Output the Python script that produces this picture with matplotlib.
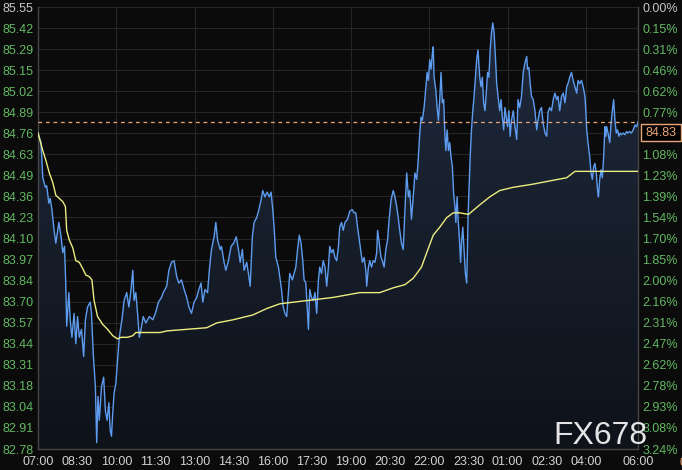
import numpy as np
import matplotlib
matplotlib.use("Agg")
import matplotlib.pyplot as plt
from matplotlib.colors import LinearSegmentedColormap
from matplotlib.patches import Rectangle

plt.rcParams['font.family'] = ['Liberation Sans', 'DejaVu Sans']

# minutes after 07:00 and traded price
price_min = [0, 7, 11, 17, 20, 25, 28, 32, 37, 41, 48, 53, 57, 61, 64, 66, 71, 74, 78, 83,
             87, 91, 95, 100, 105, 109, 114, 120, 123, 127, 132, 135, 138, 141, 146, 151, 155, 159, 163, 166,
             169, 172, 175, 179, 183, 187, 193, 198, 204, 209, 214, 218, 221, 225, 229, 233, 237, 242, 248, 256,
             264, 270, 277, 284, 288, 296, 301, 307, 313, 319, 324, 330, 336, 342, 347, 353, 359, 365, 370, 375,
             379, 384, 390, 394, 399, 405, 409, 413, 419, 422, 428, 432, 438, 444, 450, 456, 461, 465, 470, 474,
             480, 484, 488, 493, 497, 503, 508, 513, 517, 522, 527, 532, 536, 540, 543, 547, 553, 556, 560, 564,
             568, 572, 576, 579, 585, 589, 593, 597, 601, 605, 609, 612, 616, 619, 622, 625, 629, 633, 637, 641,
             645, 648, 652, 656, 660, 664, 668, 671, 675, 679, 683, 687, 691, 694, 698, 702, 706, 712, 717, 723,
             727, 731, 735, 739, 743, 746, 750, 754, 756, 760, 763, 767, 771, 775, 779, 781, 784, 789, 792, 796,
             800, 804, 807, 812, 817, 821, 825, 829, 832, 836, 840, 844, 848, 852, 855, 859, 863, 867, 871, 874,
             878, 881, 884, 888, 892, 895, 898, 901, 904, 907, 909, 911, 915, 918, 921, 924, 927, 930, 933, 936,
             938, 941, 944, 947, 950, 953, 956, 959, 961, 964, 966, 969, 972, 974, 977, 980, 983, 986, 988, 989,
             992, 994, 997, 1000, 1003, 1006, 1009, 1012, 1016, 1019, 1022, 1025, 1028, 1031, 1034, 1037, 1040, 1043, 1046, 1049,
             1052, 1055, 1058, 1062, 1065, 1068, 1071, 1074, 1077, 1080, 1083, 1086, 1089, 1093, 1097, 1101, 1104, 1108, 1112, 1116,
             1120, 1124, 1126, 1129, 1132, 1135, 1139, 1143, 1147, 1150, 1154, 1158, 1162, 1166, 1170, 1173, 1177, 1181, 1185, 1189,
             1193, 1196, 1200, 1204, 1208, 1212, 1216, 1219, 1223, 1227, 1231, 1235, 1239, 1242, 1246, 1250, 1254, 1258, 1260, 1262,
             1265, 1269, 1272, 1275, 1278, 1281, 1284, 1287, 1289, 1292, 1295, 1298, 1301, 1304, 1306, 1308, 1311, 1315, 1318, 1321,
             1324, 1327, 1330, 1333, 1336, 1339, 1342, 1346, 1350, 1354, 1357, 1361, 1365, 1369, 1373, 1377, 1380]
price_val = [84.76, 84.70, 84.48, 84.42, 84.43, 84.32, 84.35, 84.28, 84.15, 84.07, 84.20, 84.11, 84.01, 84.05, 83.80, 83.55, 83.76, 83.59, 83.48, 83.63,
             83.44, 83.61, 83.48, 83.53, 83.36, 83.59, 83.67, 83.70, 83.63, 83.38, 83.17, 82.82, 83.11, 82.96, 83.17, 83.23, 83.02, 82.96, 83.07, 82.90,
             82.86, 83.01, 83.13, 83.19, 83.34, 83.48, 83.59, 83.71, 83.76, 83.67, 83.78, 83.90, 83.71, 83.76, 83.63, 83.48, 83.53, 83.61, 83.57, 83.61,
             83.59, 83.63, 83.70, 83.73, 83.76, 83.80, 83.90, 83.95, 83.96, 83.86, 83.82, 83.84, 83.78, 83.73, 83.67, 83.63, 83.70, 83.73, 83.78, 83.82,
             83.70, 83.78, 83.76, 83.90, 84.03, 84.11, 84.20, 84.09, 84.03, 84.05, 83.95, 83.90, 83.96, 84.05, 84.07, 84.11, 84.03, 83.95, 84.03, 83.90,
             83.95, 83.88, 83.80, 84.11, 84.20, 84.23, 84.28, 84.34, 84.40, 84.36, 84.39, 84.36, 84.39, 84.28, 84.17, 83.98, 83.92, 83.86, 83.78, 83.67,
             83.63, 83.61, 83.76, 83.88, 83.84, 83.88, 83.92, 84.03, 84.12, 84.07, 83.96, 83.84, 83.82, 83.67, 83.53, 83.78, 83.73, 83.71, 83.76, 83.63,
             83.84, 83.92, 83.88, 83.96, 83.92, 83.80, 83.92, 84.05, 84.01, 84.03, 83.98, 83.96, 84.05, 84.17, 84.20, 84.15, 84.20, 84.22, 84.27, 84.28,
             84.26, 84.26, 84.17, 84.09, 84.01, 83.95, 83.98, 83.90, 83.80, 83.92, 83.96, 83.92, 83.96, 83.95, 84.01, 84.15, 84.09, 83.98, 83.96, 83.92,
             84.03, 84.09, 84.20, 84.34, 84.40, 84.36, 84.30, 84.22, 84.15, 84.07, 84.03, 84.28, 84.51, 84.36, 84.40, 84.22, 84.36, 84.51, 84.47, 84.57,
             84.76, 84.86, 84.84, 84.92, 85.05, 85.14, 85.09, 85.22, 85.16, 85.26, 85.30, 85.11, 85.03, 84.92, 84.84, 84.97, 85.14, 84.95, 84.97, 84.74,
             84.65, 84.78, 84.65, 84.70, 84.61, 84.55, 84.38, 84.30, 84.20, 84.36, 84.23, 84.11, 83.95, 84.07, 84.17, 84.03, 83.88, 83.82, 84.07, 84.23,
             84.45, 84.61, 84.78, 84.90, 84.99, 85.11, 85.22, 85.28, 85.11, 85.05, 85.11, 84.95, 84.90, 85.01, 85.14, 85.11, 85.28, 85.39, 85.45, 85.39,
             85.24, 85.07, 84.99, 84.90, 84.97, 84.86, 84.78, 84.92, 84.86, 84.80, 84.90, 84.74, 84.84, 84.90, 84.80, 84.72, 84.97, 84.92, 84.99, 85.14,
             85.20, 85.24, 85.16, 85.17, 85.07, 84.99, 84.97, 84.90, 84.78, 84.84, 84.90, 84.92, 84.82, 84.76, 84.74, 84.89, 84.92, 84.90, 84.97, 85.01,
             84.97, 84.99, 84.90, 84.99, 85.01, 84.95, 85.05, 85.07, 85.11, 85.14, 85.09, 85.05, 85.01, 85.09, 85.07, 85.09, 85.05, 84.99, 84.90, 84.78,
             84.70, 84.61, 84.51, 84.47, 84.55, 84.57, 84.51, 84.40, 84.36, 84.47, 84.53, 84.48, 84.61, 84.80, 84.74, 84.80, 84.76, 84.70, 84.82, 84.90,
             84.97, 84.84, 84.76, 84.78, 84.74, 84.76, 84.75, 84.76, 84.75, 84.77, 84.76, 84.77, 84.76, 84.78, 84.81, 84.80, 84.83]

# average price line
avg_min = [0, 11, 18, 26, 34, 41, 49, 57, 63, 66, 72, 80, 87, 95, 103, 110, 118, 124, 129, 137,
           149, 160, 172, 183, 191, 206, 218, 225, 242, 281, 296, 342, 388, 411, 449, 494, 526, 556, 618, 679,
           740, 786, 817, 844, 863, 882, 894, 909, 924, 940, 955, 970, 990, 1016, 1039, 1062, 1093, 1139, 1177, 1216,
           1235, 1262, 1380]
avg_val = [84.76, 84.65, 84.59, 84.51, 84.45, 84.37, 84.35, 84.33, 84.30, 84.15, 84.09, 84.04, 83.96, 83.95, 83.91, 83.87, 83.86, 83.84, 83.71, 83.61,
           83.56, 83.53, 83.49, 83.47, 83.48, 83.48, 83.49, 83.51, 83.51, 83.51, 83.52, 83.53, 83.54, 83.57, 83.59, 83.62, 83.66, 83.69, 83.71, 83.73,
           83.76, 83.76, 83.79, 83.81, 83.85, 83.92, 84.01, 84.12, 84.17, 84.23, 84.26, 84.26, 84.25, 84.31, 84.36, 84.40, 84.42, 84.44, 84.46, 84.48,
           84.52, 84.52, 84.52]

last_price = 84.83

left_labels = ['85.55', '85.42', '85.29', '85.15', '85.02', '84.89', '84.76', '84.63', '84.49', '84.36', '84.23',
               '84.10', '83.97', '83.84', '83.70', '83.57', '83.44', '83.31', '83.18', '83.04', '82.91', '82.78']
right_labels = ['0.00%', '0.15%', '0.31%', '0.46%', '0.62%', '0.77%', '0.92%', '1.08%', '1.23%', '1.39%', '1.54%',
                '1.70%', '1.85%', '2.00%', '2.16%', '2.31%', '2.47%', '2.62%', '2.78%', '2.93%', '3.08%', '3.24%']
time_ticks = [0, 90, 180, 270, 360, 450, 540, 630, 720, 810, 900, 990, 1080, 1170, 1260, 1380]
time_labels = ['07:00', '08:30', '10:00', '11:30', '13:00', '14:30', '16:00', '17:30', '19:00',
               '20:30', '22:00', '23:30', '01:00', '02:30', '04:00', '06:00']

bg = '#0b0b0b'
green = '#62b862'
grey = '#c4c4c4'
orange = '#eaa679'

fig = plt.figure(figsize=(6.82, 4.70), dpi=100, facecolor=bg)
ax = fig.add_axes([38 / 682, 21 / 470, 600 / 682, 442 / 470])
ax.set_facecolor(bg)

ymin, ymax = 82.78, 85.55
levels = np.linspace(ymin, ymax, len(left_labels))

# gradient fill under price line
poly = ax.fill_between(price_min, price_val, ymin, color='none', lw=0)
grad = np.linspace(0, 1, 256).reshape(-1, 1)
cmap = LinearSegmentedColormap.from_list('fillgrad', ['#0e1219', '#202b3e'])
im = ax.imshow(grad, extent=[0, 1380, ymin, ymax], origin='lower', aspect='auto',
               cmap=cmap, zorder=1)
im.set_clip_path(poly.get_paths()[0], transform=ax.transData)

ax.plot(price_min, price_val, color='#5e9cf0', lw=1.0, zorder=3)
ax.plot(avg_min, avg_val, color='#ecec80', lw=1.0, zorder=4)
ax.axhline(last_price, color=orange, lw=0.9, ls=(0, (3, 3)), zorder=5)

ax.set_xlim(0, 1380)
ax.set_ylim(ymin, ymax)

# grid
for lv in levels:
    ax.axhline(lv, color='#262626', lw=0.8, zorder=0.5)
for m in range(180, 1380, 180):
    ax.axvline(m, color='#262626', lw=0.8, zorder=0.5)

ax.set_yticks(levels)
ax.set_yticklabels(left_labels[::-1])
ax.set_xticks(time_ticks)
ax.set_xticklabels(time_labels)
ax.tick_params(axis='y', length=0, pad=3, labelsize=9, labelcolor=green)
ax.tick_params(axis='x', length=0, pad=5, labelsize=9, labelcolor='#d2d2d2')
ax.get_yticklabels()[-1].set_color(grey)

ax.spines['top'].set_visible(False)
for s in ['left', 'bottom', 'right']:
    ax.spines[s].set_color('#454545')
    ax.spines[s].set_linewidth(1.0)

ax2 = ax.twinx()
ax2.set_ylim(ymin, ymax)
ax2.set_yticks(levels)
ax2.set_yticklabels(right_labels[::-1])
ax2.tick_params(axis='y', length=0, pad=3, labelsize=9, labelcolor=green)
rlabels = ax2.get_yticklabels()
rlabels[-1].set_color(grey)
# the 0.92% label sits under the last-price tag
rlabels[len(rlabels) - 1 - right_labels.index('0.92%')].set_visible(False)
for s in ax2.spines.values():
    s.set_visible(False)
ax2.patch.set_visible(False)

# last price tag
fig.patches.append(Rectangle((641 / 682, (470 - 141) / 470), 40 / 682, 17 / 470,
                             transform=fig.transFigure, facecolor='#000000',
                             edgecolor=orange, lw=1.0, zorder=5))
fig.text(661 / 682, (470 - 132.5) / 470, '84.83', color=orange, fontsize=9,
         ha='center', va='center', zorder=6)

# watermark
fig.text(553 / 682, (470 - 444) / 470, 'FX678', color='#e4e4e4', fontsize=23,
         ha='left', va='baseline', zorder=7)
fig.text(679 / 682, (470 - 466) / 470, '0', color=orange, fontsize=9,
         ha='left', va='baseline', zorder=7)

fig.savefig('out.png', dpi=100, facecolor=bg)
